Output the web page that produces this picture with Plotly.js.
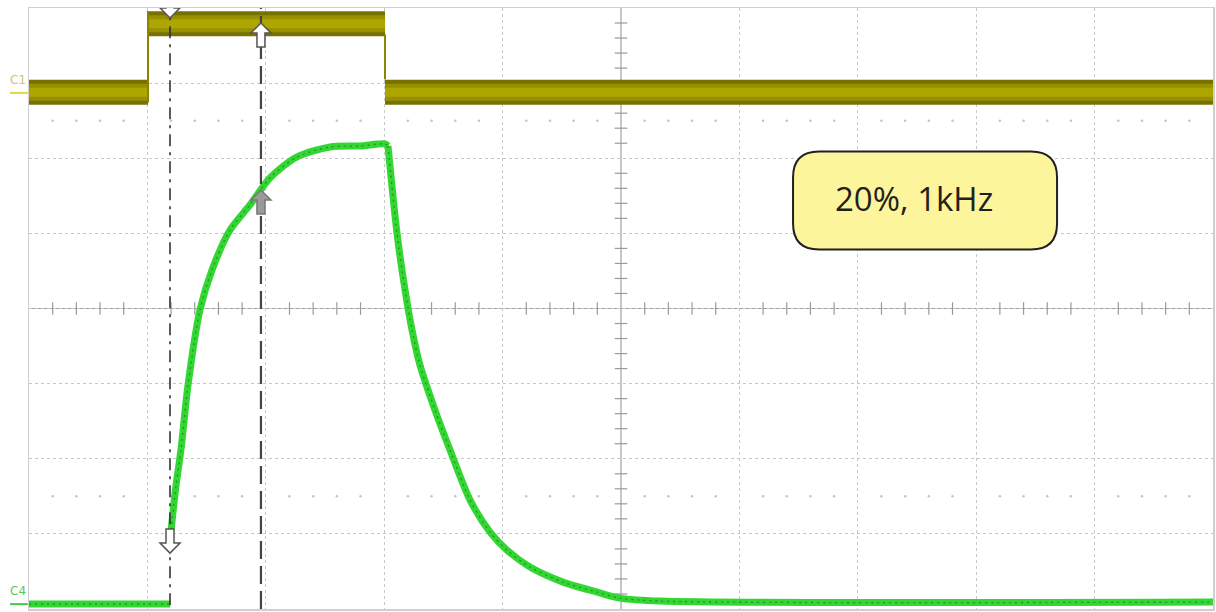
<!DOCTYPE html>
<html>
<head>
<meta charset="utf-8">
<script src="https://cdn.plot.ly/plotly-3.0.1.min.js"></script>
<style>html,body{margin:0;padding:0;background:#fff;}#chart{width:1216px;height:612px;}</style>
</head>
<body>
<div id="chart"></div>
<script>
// ---- data (time in divisions, level in divisions) ----
const c1EdgeTimes = [0, 1.005, 3.007, 10];
const c1Levels = [2.88, 3.79, 2.88];        // level of each segment between edges

const c4BaseTime = [0, 1.191];
const c4BaseLevel = [-3.935, -3.935];

const c4RiseTime = [1.2, 1.24, 1.285, 1.343, 1.444, 1.546, 1.698, 1.866, 2.035, 2.264, 2.542, 2.796, 3.007, 3.032];
const c4RiseLevel = [-2.949, -2.38, -1.86, -1.019, -0.020, 0.513, 1.045, 1.378, 1.738, 2.017, 2.150, 2.164, 2.190, 2.164];
const c4FallTime = [3.032, 3.108, 3.176, 3.235, 3.302, 3.429, 3.556, 3.725, 3.894, 4.037, 4.231, 4.510, 4.797, 4.992, 5.329, 10];
const c4FallLevel = [2.164, 1.005, 0.246, -0.286, -0.752, -1.352, -1.884, -2.550, -2.976, -3.216, -3.442, -3.642, -3.775, -3.855, -3.895, -3.908];

const cursorA = 1.191;   // dash-dot cursor
const cursorB = 1.959;   // dashed cursor
const boxText = "20%, 1kHz";

// ---- build traces ----
const segX = [], segY = [], edgeX = [], edgeY = [];
for (let i = 0; i < c1Levels.length; i++) {
  segX.push(c1EdgeTimes[i], c1EdgeTimes[i + 1], null);
  segY.push(c1Levels[i], c1Levels[i], null);
  if (i > 0) {
    edgeX.push(c1EdgeTimes[i], c1EdgeTimes[i], null);
    edgeY.push(c1Levels[i - 1] - 0.14, c1Levels[i] + 0.17, null);
  }
}

const traces = [];
// dotted marker rows
const dotX = [];
for (let k = 1; k < 50; k++) { if (k % 5 !== 0) { dotX.push(k * 0.2); } }
traces.push({x: dotX.concat(dotX), y: dotX.map(() => 2.5).concat(dotX.map(() => -2.5)), mode: 'markers', type: 'scatter',
  marker: {size: 2.5, color: '#c4c4c4'}, hoverinfo: 'skip'});
// center axis minor ticks
const tX = [], tY = [];
for (let k = 1; k < 50; k++) { if (k % 5 !== 0) tX.push(k * 0.2); }
for (let k = -19; k < 20; k++) { if (k % 5 !== 0) tY.push(k * 0.2); }
traces.push({x: tX, y: tX.map(() => 0), mode: 'markers', type: 'scatter',
  marker: {symbol: 'line-ns', size: 9, line: {width: 1.2, color: '#9a9a9a'}}, hoverinfo: 'skip'});
traces.push({x: tY.map(() => 5), y: tY, mode: 'markers', type: 'scatter',
  marker: {symbol: 'line-ew', size: 9, line: {width: 1.2, color: '#9a9a9a'}}, hoverinfo: 'skip'});

// C1 band
traces.push({x: segX, y: segY, mode: 'lines', type: 'scatter', line: {color: '#777200', width: 25}, hoverinfo: 'skip'});
traces.push({x: segX, y: segY, mode: 'lines', type: 'scatter', line: {color: '#979000', width: 17}, hoverinfo: 'skip'});
traces.push({x: segX, y: segY, mode: 'lines', type: 'scatter', line: {color: '#aea600', width: 9}, hoverinfo: 'skip'});
traces.push({x: edgeX, y: edgeY, mode: 'lines', type: 'scatter', line: {color: '#8a8400', width: 2}, hoverinfo: 'skip'});

// C4 trace
const c4Line = {color: '#33d633', width: 7, shape: 'spline', smoothing: 0.8};
const c4Core = {color: '#1f961f', width: 1.3, dash: '2px,4px', shape: 'spline', smoothing: 0.8};
traces.push({x: c4BaseTime, y: c4BaseLevel, mode: 'lines', type: 'scatter', line: {color: '#33d633', width: 7}, hoverinfo: 'skip'});
traces.push({x: c4RiseTime, y: c4RiseLevel, mode: 'lines', type: 'scatter', line: c4Line, hoverinfo: 'skip'});
traces.push({x: c4FallTime, y: c4FallLevel, mode: 'lines', type: 'scatter', line: c4Line, hoverinfo: 'skip'});
traces.push({x: c4RiseTime, y: c4RiseLevel, mode: 'lines', type: 'scatter', line: c4Core, hoverinfo: 'skip'});
traces.push({x: c4FallTime, y: c4FallLevel, mode: 'lines', type: 'scatter', line: c4Core, hoverinfo: 'skip'});
traces.push({x: c4BaseTime, y: c4BaseLevel, mode: 'lines', type: 'scatter', line: {color: '#1f961f', width: 1.3, dash: '2px,4px'}, hoverinfo: 'skip'});

// arrows (pixel paths relative to anchor)
function arrow(x, y, up, fill, stroke) {
  const s = up ? 1 : -1;
  const pts = [[0,0],[-10,-10],[-4,-10],[-4,-24],[4,-24],[4,-10],[10,-10]];
  const p = 'M ' + pts.map(q => q[0] + ',' + (s * q[1])).join(' L ') + ' Z';
  return {type: 'path', xref: 'x', yref: 'y', xsizemode: 'pixel', ysizemode: 'pixel', xanchor: x, yanchor: y,
    path: p, fillcolor: fill, line: {color: stroke, width: 1.5}, layer: 'above'};
}
function rrect(x, y, hw, hh, r) {
  const p = `M ${-hw + r},${hh} L ${hw - r},${hh} Q ${hw},${hh} ${hw},${hh - r} L ${hw},${-hh + r} Q ${hw},${-hh} ${hw - r},${-hh} ` +
            `L ${-hw + r},${-hh} Q ${-hw},${-hh} ${-hw},${-hh + r} L ${-hw},${hh - r} Q ${-hw},${hh} ${-hw + r},${hh} Z`;
  return {type: 'path', xref: 'x', yref: 'y', xsizemode: 'pixel', ysizemode: 'pixel', xanchor: x, yanchor: y,
    path: p, fillcolor: '#fdf59b', line: {color: '#231f20', width: 2}, layer: 'above'};
}

const shapes = [
  {type: 'line', xref: 'x', yref: 'y', x0: 0, x1: 10, y0: 0, y1: 0, line: {color: '#a0a0a0', width: 1.2}, layer: 'below'},
  {type: 'line', xref: 'x', yref: 'y', x0: 5, x1: 5, y0: -4, y1: 4, line: {color: '#a0a0a0', width: 1.2}, layer: 'below'},
  {type: 'line', xref: 'x', yref: 'y', x0: cursorA, x1: cursorA, y0: -3.95, y1: 4, line: {color: '#333', width: 1.6, dash: '12px,6px,3px,6px'}, layer: 'above'},
  {type: 'line', xref: 'x', yref: 'y', x0: cursorB, x1: cursorB, y0: -4, y1: 4, line: {color: '#444', width: 2.2, dash: '18px,7px'}, layer: 'above'},
  arrow(cursorA, 3.868, false, '#ffffff', '#555'),
  arrow(cursorB, 3.80, true, '#ffffff', '#555'),
  arrow(cursorB, 1.578, true, '#9a9a9a', '#777'),
  arrow(cursorA, -3.256, false, '#ffffff', '#555'),
  rrect(7.568, 1.438, 132, 49, 26),
  {type: 'line', xref: 'paper', yref: 'y', x0: -0.016, x1: -0.001, y0: 2.87, y1: 2.87, line: {color: '#e3d640', width: 2}},
  {type: 'line', xref: 'paper', yref: 'y', x0: -0.016, x1: -0.001, y0: -3.935, y1: -3.935, line: {color: '#44cc44', width: 2}}
];

const layout = {
  width: 1216, height: 612,
  margin: {l: 29, r: 3, t: 8, b: 3},
  paper_bgcolor: '#ffffff', plot_bgcolor: '#ffffff',
  showlegend: false,
  xaxis: {range: [0, 10], dtick: 1, tick0: 0, showticklabels: false, ticks: '', zeroline: false,
    showgrid: true, gridcolor: '#c8c8c8', griddash: 'dot', gridwidth: 1,
    showline: true, mirror: true, linecolor: '#cfcfcf', linewidth: 1.5, fixedrange: true},
  yaxis: {range: [-4, 4], dtick: 1, tick0: 0, showticklabels: false, ticks: '', zeroline: false,
    showgrid: true, gridcolor: '#c8c8c8', griddash: 'dot', gridwidth: 1,
    showline: true, mirror: true, linecolor: '#cfcfcf', linewidth: 1.5, fixedrange: true},
  shapes: shapes,
  annotations: [
    {text: boxText, xref: 'x', yref: 'y', x: 7.475, y: 1.46, showarrow: false,
      font: {family: 'Open Sans, Noto Sans, sans-serif', size: 33, color: '#231f20'}},
    {text: 'C1', xref: 'paper', yref: 'y', x: -0.0175, xanchor: 'left', y: 3.04, showarrow: false,
      font: {family: 'DejaVu Sans, sans-serif', size: 12, color: '#cfc56a'}},
    {text: 'C4', xref: 'paper', yref: 'y', x: -0.0175, xanchor: 'left', y: -3.76, showarrow: false,
      font: {family: 'DejaVu Sans, sans-serif', size: 12, color: '#55cc55'}}
  ]
};

Plotly.newPlot('chart', traces, layout, {staticPlot: true, displayModeBar: false});
</script>
</body>
</html>
